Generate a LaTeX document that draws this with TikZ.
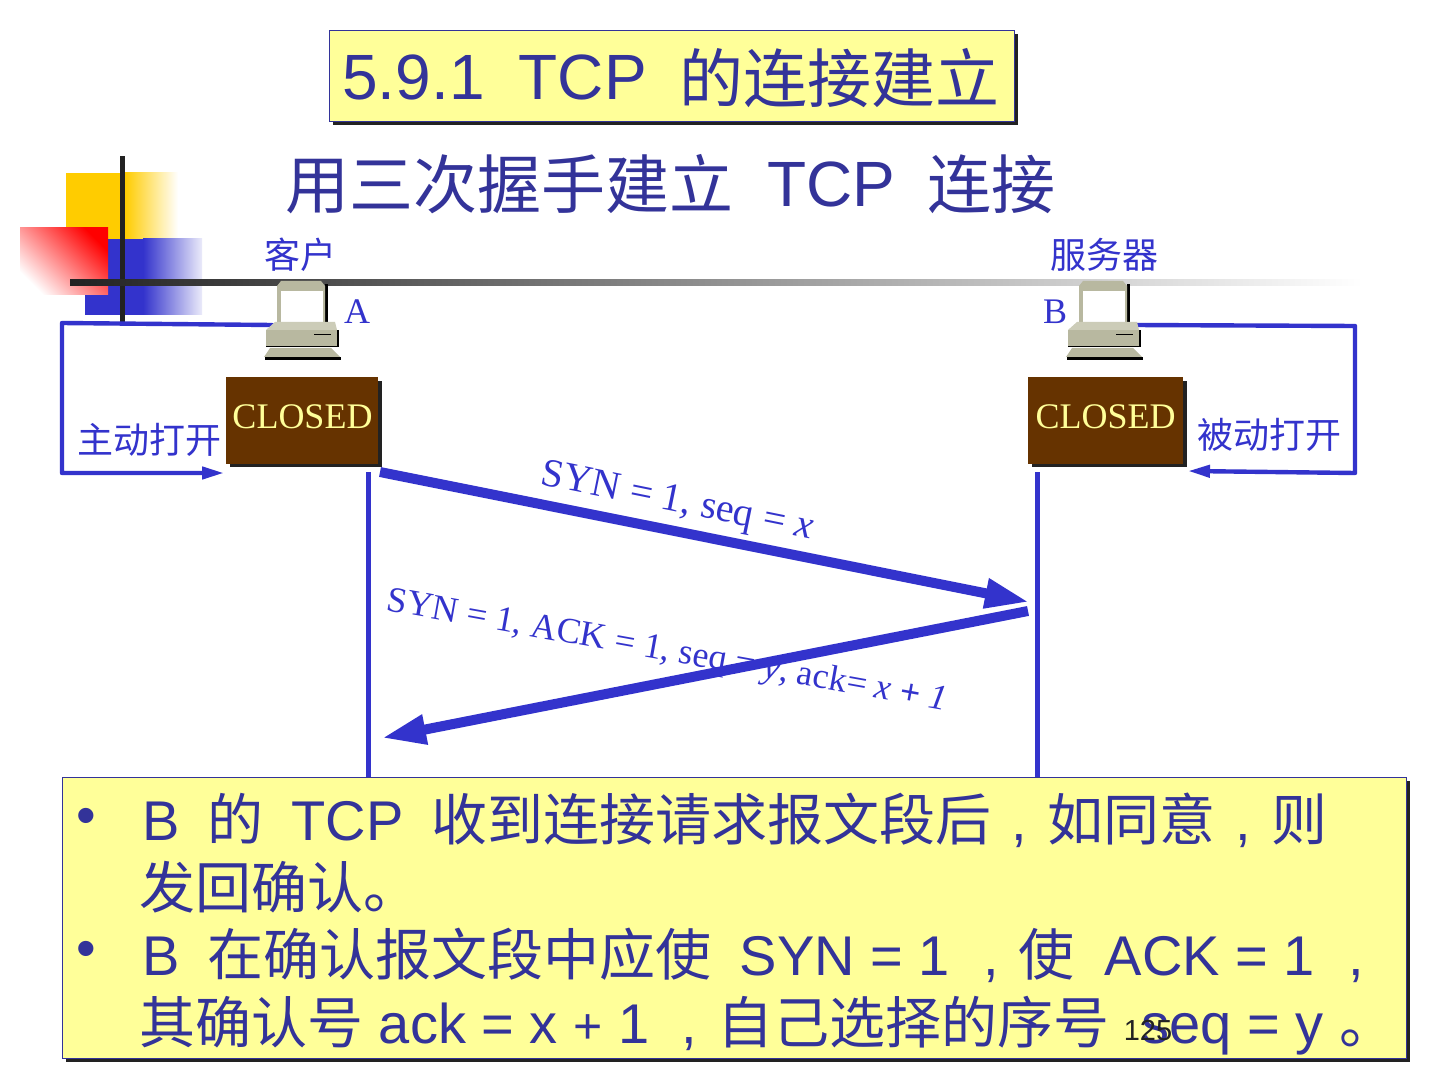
\documentclass[tikz,border=0pt]{standalone}
\usepackage{fontspec}
\usetikzlibrary{arrows.meta}
\setmainfont{Liberation Sans}
\newfontfamily\cjk{Noto Sans CJK SC}
\newfontfamily\serifl{Liberation Serif}
\newcommand{\C}[1]{{\cjk #1}}
\newcommand{\cm}{\makebox[1em][c]{,}}
\newcommand{\gp}{\hspace{14pt}}
\definecolor{tblue}{HTML}{333399}
\definecolor{lblue}{HTML}{3333CC}
\definecolor{pale}{HTML}{FFFF99}
\definecolor{brownbox}{HTML}{663300}
\definecolor{pcgrey}{HTML}{B8B8A0}
\definecolor{pclight}{HTML}{CCCCB8}
\definecolor{barblack}{HTML}{222222}
\definecolor{logoyellow}{HTML}{FFCC00}
\newcommand{\fs}[1]{\fontsize{#1}{#1}\selectfont}
\tikzset{
  panel/.style={draw=tblue,line width=0.6pt,fill=pale},
  shadowbox/.style={fill=barblack,draw=none},
  wire/.style={draw=lblue,line width=2.2pt,line cap=round,line join=round},
  thick arrow/.style={draw=lblue,line width=5pt,-{Triangle[length=22pt,width=14pt]}},
  small tip/.style={-{Triangle[length=11pt,width=6pt]}},
  lifeline/.style={draw=lblue,line width=2.4pt},
  closedbox/.style={fill=brownbox,draw=none,minimum width=76pt,minimum height=43.5pt,inner sep=0pt},
  closedtext/.style={text=pale,font=\serifl\fs{18}},
  bodyline/.style={text=tblue,anchor=base west,inner sep=0pt,font=\fs{28}},
  label/.style={text=lblue,inner sep=0pt,font=\cjk\fs{18}},
  letter/.style={text=lblue,inner sep=0pt,font=\serifl\fs{18}},
  seglabel/.style={text=lblue,inner sep=0pt,font=\serifl\fs{20}},
}
\newcommand{\pc}[2]{%
  \begin{scope}[shift={(#1,#2)}]
    \fill[black] (60,3) rectangle (63,41);
    \fill[pcgrey] (12,5) -- (16,0) -- (56,0) -- (60,5) -- (60,41) -- (12,41) -- cycle;
    \fill[white] (16,10) rectangle (58,41);
    \fill[black] (72,49) rectangle (74,66.5);
    \fill[black] (1,64) rectangle (74,66.5);
    \fill[pclight] (10,41) -- (70,41) -- (72,49) -- (1,49) -- cycle;
    \fill[pcgrey] (1,49) rectangle (72,65);
    \draw[black,line width=0.5pt] (49,54) -- (66,54);
    \fill[black] (0,76) rectangle (76,79);
    \fill[pcgrey] (5,67) -- (66,67) -- (75,76) -- (-1,76) -- cycle;
  \end{scope}}
\begin{document}
\begin{tikzpicture}[x=0.5pt,y=-0.5pt]
\useasboundingbox (0,0) rectangle (1440,1080);
\fill[white] (0,0) rectangle (1440,1080);
% logo
\shade[left color=logoyellow,right color=white] (125,173) rectangle (178,240);
\fill[logoyellow] (66,173) rectangle (125,240);
\shade[left color=lblue,right color=lblue!10] (143,239) rectangle (202,315);
\fill[lblue] (85,239) rectangle (143,315);
\shade[shading=axis,top color=red,bottom color=white,shading angle=-45] (20,228) rectangle (108,295);
\fill[barblack] (120,156) rectangle (125,322);
\shade[left color=barblack,right color=white] (70,280) rectangle (1362,286);
% lifelines
\coordinate (a1) at (368.5,472); \coordinate (a2) at (368.5,778);
\coordinate (b1) at (1037.5,472); \coordinate (b2) at (1037.5,778);
\draw[lifeline] (a1) -- (a2);
\draw[lifeline] (b1) -- (b2);
% loops
\coordinate (pca) at (272,325);
\coordinate (pcb) at (1134,325);
\coordinate (la1) at (62,323); \coordinate (la2) at (62,473); \coordinate (la3) at (224,473);
\coordinate (lb1) at (1355,326); \coordinate (lb2) at (1355,473); \coordinate (lb3) at (1188,471);
\draw[wire,small tip] (pca) -- (la1) -- (la2) -- (la3);
\draw[wire,small tip] (pcb) -- (lb1) -- (lb2) -- (lb3);
% computers
\pc{265}{281}
\pc{1067}{281}
% closed boxes
\fill[barblack] (230,381) rectangle (382,467);
\node[closedbox,anchor=north west] (ca) at (226,377) {};
\node[closedtext] (cat) at (302.5,417) {CLOSED};
\fill[barblack] (1032,381) rectangle (1187,467);
\node[closedbox,anchor=north west,minimum width=77.5pt] (cb) at (1028,377) {};
\node[closedtext] (cbt) at (1105.5,417) {CLOSED};
% labels
\node[label] (ke) at (300,255) {客户};
\node[label] (fu) at (1104.5,255) {服务器};
\node[letter] (A) at (357,312) {A};
\node[letter] (B) at (1055,312) {B};
\node[label] (zd) at (149,440) {主动打开};
\node[label] (bd) at (1269,435) {被动打开};
% messages
\coordinate (m1) at (380,472); \coordinate (m2) at (1029,602);
\coordinate (m3) at (1028,611); \coordinate (m4) at (382,738);
\node[seglabel,rotate=-11.5] (s1) at (677,503) {SYN = 1, seq = {\itshape x}};
\node[seglabel,rotate=-10.2,font=\serifl\fs{18}] (s2) at (667,652) {SYN = 1, ACK = 1, seq = {\itshape y}, ack= {\itshape x} {\bfseries +} {\itshape 1}};
\draw[thick arrow] (m1) -- (m2);
\draw[thick arrow] (m3) -- (m4);
% title
\fill[shadowbox] (333,34) rectangle (1018,125);
\node[panel,anchor=north west,minimum width=342.5pt,minimum height=45.5pt,inner sep=0pt] (tb) at (329,30) {};
\node[text=tblue,inner sep=0pt,font=\fs{32},anchor=base west] (tt) at (342,100) {5.9.1\hspace{17pt}TCP\hspace{16.5pt}\raisebox{-1.5pt}{\C{的连接建立}}};
\node[text=tblue,inner sep=0pt,font=\fs{32},anchor=base west] (st) at (285,207) {\raisebox{-1pt}{\C{用三次握手建立}}\hspace{17pt}TCP\hspace{16pt}\raisebox{-1pt}{\C{连接}}};
% body
\fill[shadowbox] (66,781) rectangle (1410,1062);
\node[panel,anchor=north west,minimum width=672pt,minimum height=140.5pt,inner sep=0pt] (bb) at (62,777) {};
\node[bodyline] (bu1) at (76,834) {•};
\node[bodyline] (bu2) at (76,967) {•};
\node[bodyline] (l1) at (142,840) {B\gp\C{的}\gp TCP\gp\C{收到连接请求报文段后}\cm\C{如同意}\cm\C{则}};
\node[bodyline] (l2) at (139,908) {\C{发回确认。}};
\node[bodyline] (l3) at (142,975) {B\gp\C{在确认报文段中应使}\gp SYN = 1\hspace{6.5pt}\cm\C{使}\hspace{15pt}ACK = 1\hspace{6.5pt}\cm};
\node[bodyline] (l4) at (139,1043) {\C{其确认号} ack = x {\fontsize{25}{25}\selectfont +} 1\hspace{6pt}\cm\C{自己选择的序号}\hspace{16pt}seq = y \C{。}};
\node[text=barblack,inner sep=0pt,font=\fs{14.5}] (pn) at (1148,1031) {125};
\end{tikzpicture}
\end{document}
